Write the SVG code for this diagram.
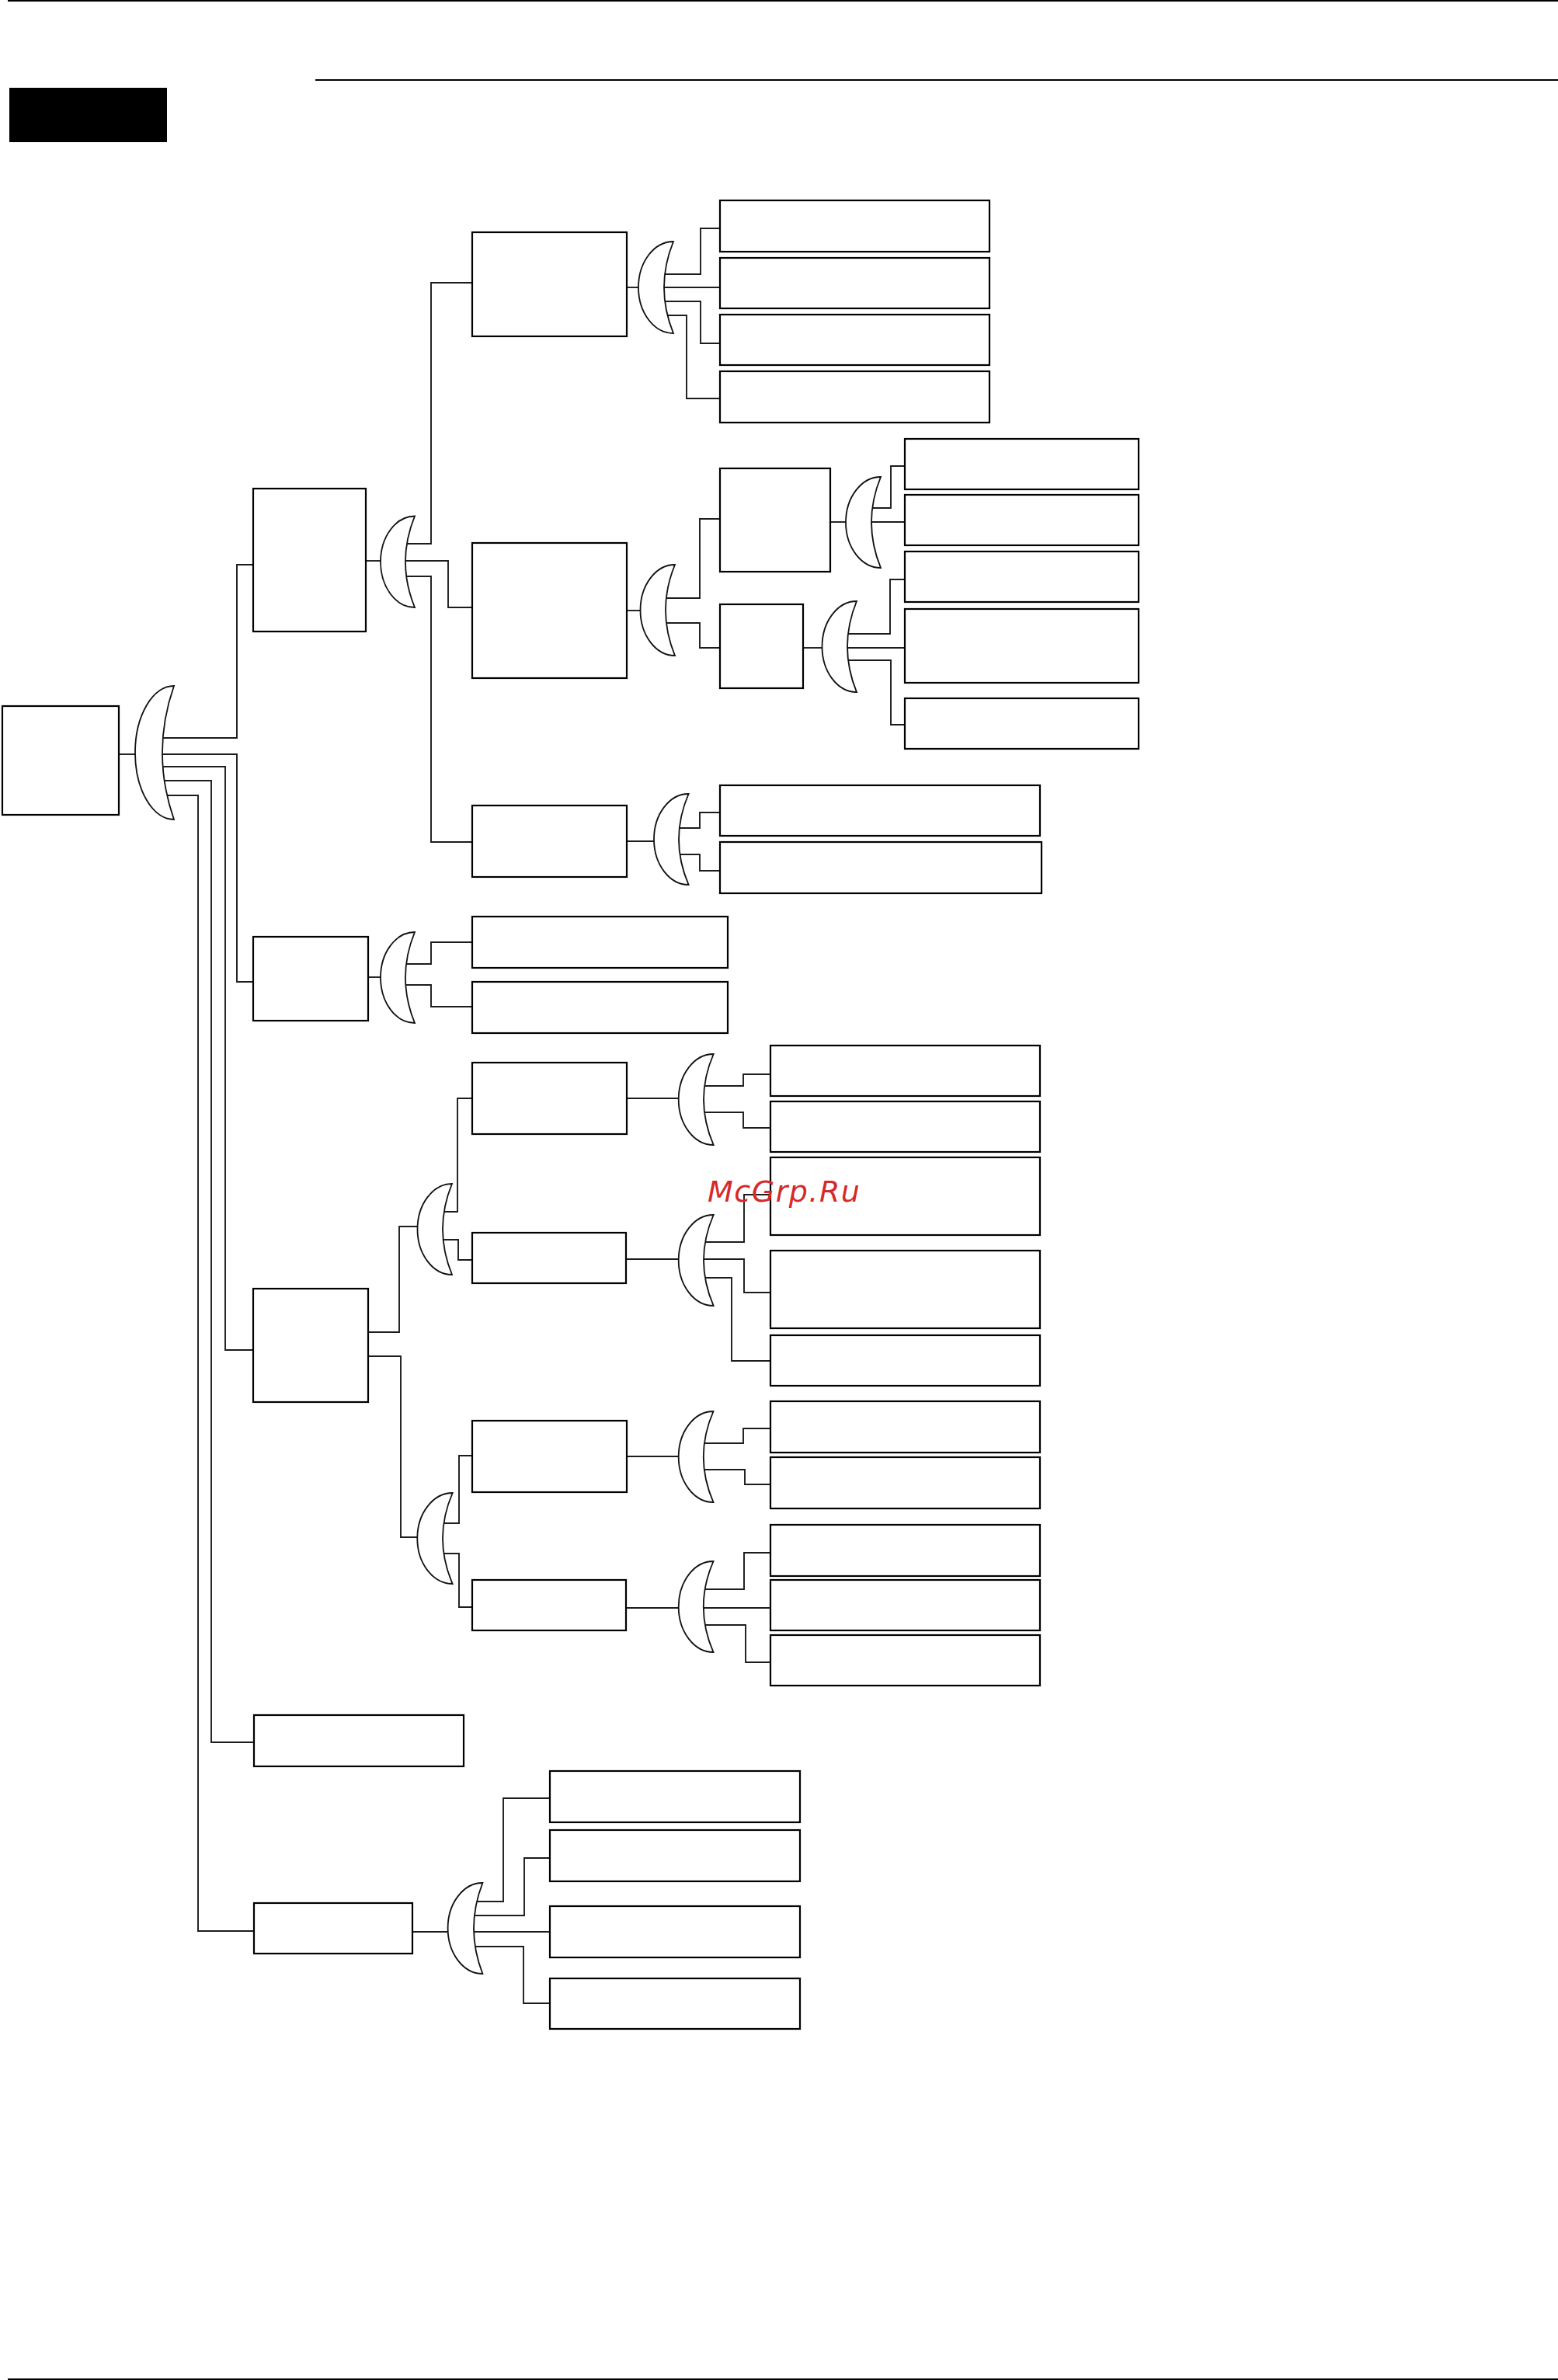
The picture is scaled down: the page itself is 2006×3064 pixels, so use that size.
<svg xmlns="http://www.w3.org/2000/svg" width="2006" height="3064" viewBox="0 0 2006 3064">
<style>
.b{fill:#fff;stroke:#000;stroke-width:2.2}
.c{fill:none;stroke:#1c1c1c;stroke-width:1.9}
.g{fill:#fff;stroke:#111;stroke-width:1.8}
.r{fill:none;stroke:#000;stroke-width:2}
.wm{font-family:"DejaVu Sans",sans-serif;font-style:italic;font-size:38px;letter-spacing:1.5px;fill:#d42a2a}
</style>
<rect width="2006" height="3064" fill="#fff"/>
<g id="page">
<line class="r" x1="10" y1="1" x2="2006" y2="1"/>
<line class="r" x1="406" y1="103" x2="2006" y2="103"/>
<line class="r" x1="10" y1="3063" x2="2006" y2="3063"/>
<rect x="12" y="113" width="203" height="70" fill="#000"/>
</g>
<g id="connectors">
<polyline class="c" points="153,971 175,971"/>
<polyline class="c" points="208,950 305,950 305,727 326,727"/>
<polyline class="c" points="208,971 305,971 305,1264 326,1264"/>
<polyline class="c" points="208,987 290,987 290,1738 326,1738"/>
<polyline class="c" points="208,1005 272,1005 272,2243 327,2243"/>
<polyline class="c" points="208,1024 255,1024 255,2486 327,2486"/>
<polyline class="c" points="471,722 491,722"/>
<polyline class="c" points="520,700 555,700 555,364 608,364"/>
<polyline class="c" points="520,722 577,722 577,782 608,782"/>
<polyline class="c" points="520,742 555,742 555,1084 608,1084"/>
<polyline class="c" points="807,370 823,370"/>
<polyline class="c" points="853,353 902,353 902,294 927,294"/>
<polyline class="c" points="853,370 927,370"/>
<polyline class="c" points="853,388 902,388 902,442 927,442"/>
<polyline class="c" points="853,406 884,406 884,513 927,513"/>
<polyline class="c" points="807,786 825,786"/>
<polyline class="c" points="855,770 901,770 901,668 927,668"/>
<polyline class="c" points="855,802 901,802 901,834 927,834"/>
<polyline class="c" points="1069,672 1090,672"/>
<polyline class="c" points="1120,654 1147,654 1147,600 1165,600"/>
<polyline class="c" points="1120,672 1165,672"/>
<polyline class="c" points="1034,834 1059,834"/>
<polyline class="c" points="1089,816 1146,816 1146,746 1165,746"/>
<polyline class="c" points="1089,834 1165,834"/>
<polyline class="c" points="1089,850 1147,850 1147,933 1165,933"/>
<polyline class="c" points="807,1083 843,1083"/>
<polyline class="c" points="872,1066 901,1066 901,1046 927,1046"/>
<polyline class="c" points="872,1100 901,1100 901,1121 927,1121"/>
<polyline class="c" points="474,1258 491,1258"/>
<polyline class="c" points="520,1241 555,1241 555,1213 608,1213"/>
<polyline class="c" points="520,1268 555,1268 555,1296 608,1296"/>
<polyline class="c" points="474,1715 514,1715 514,1579 538,1579"/>
<polyline class="c" points="474,1746 516,1746 516,1979 538,1979"/>
<polyline class="c" points="568,1560 589,1560 589,1414 608,1414"/>
<polyline class="c" points="568,1596 590,1596 590,1622 608,1622"/>
<polyline class="c" points="807,1414 874,1414"/>
<polyline class="c" points="904,1398 957,1398 957,1383 992,1383"/>
<polyline class="c" points="904,1432 957,1432 957,1452 992,1452"/>
<polyline class="c" points="806,1621 874,1621"/>
<polyline class="c" points="904,1599 958,1599 958,1538 992,1538"/>
<polyline class="c" points="904,1621 958,1621 958,1664 992,1664"/>
<polyline class="c" points="904,1645 942,1645 942,1752 992,1752"/>
<polyline class="c" points="568,1961 591,1961 591,1874 608,1874"/>
<polyline class="c" points="568,2000 591,2000 591,2069 608,2069"/>
<polyline class="c" points="807,1875 874,1875"/>
<polyline class="c" points="904,1858 957,1858 957,1839 992,1839"/>
<polyline class="c" points="904,1892 959,1892 959,1911 992,1911"/>
<polyline class="c" points="806,2070 874,2070"/>
<polyline class="c" points="904,2046 958,2046 958,1999 992,1999"/>
<polyline class="c" points="904,2070 992,2070"/>
<polyline class="c" points="904,2092 960,2092 960,2140 992,2140"/>
<polyline class="c" points="531,2487 577,2487"/>
<polyline class="c" points="608,2448 648,2448 648,2315 708,2315"/>
<polyline class="c" points="608,2466 675,2466 675,2392 708,2392"/>
<polyline class="c" points="608,2487 708,2487"/>
<polyline class="c" points="608,2506 674,2506 674,2579 708,2579"/>
</g>
<g id="gates">
<path id="g-root" class="g" d="M224,883 A50,86 0 0 0 224,1055 Q194,969 224,883 Z"/>
<path id="g-l1" class="g" d="M534,664.5 A44,58.75 0 0 0 534,782 Q510,723.25 534,664.5 Z"/>
<path id="g-l2" class="g" d="M534,1200 A44,58.5 0 0 0 534,1317 Q510,1258.5 534,1200 Z"/>
<path id="g-a" class="g" d="M867,311 A45,59 0 0 0 867,429 Q843,370 867,311 Z"/>
<path id="g-b" class="g" d="M869,727 A44.5,58.5 0 0 0 869,844 Q845,785.5 869,727 Z"/>
<path id="g-c" class="g" d="M886.6,1022 A44.6,58.5 0 0 0 886.6,1139 Q861.4,1080.5 886.6,1022 Z"/>
<path id="g-b1" class="g" d="M1134,614 A45,58.5 0 0 0 1134,731 Q1110,672.5 1134,614 Z"/>
<path id="g-b2" class="g" d="M1103,774 A44.5,58.5 0 0 0 1103,891 Q1079,832.5 1103,774 Z"/>
<path id="g-l3" class="g" d="M582,1524 A44.5,58.5 0 0 0 582,1641 Q558,1582.5 582,1524 Z"/>
<path id="g-l3b" class="g" d="M582.7,1922 A45.4,58.5 0 0 0 582.7,2039 Q557.3,1980.5 582.7,1922 Z"/>
<path id="g-l3a1" class="g" d="M918.7,1357 A45,58.5 0 0 0 918.7,1474 Q893.3,1415.5 918.7,1357 Z"/>
<path id="g-l3a2" class="g" d="M918.7,1564 A45,58.5 0 0 0 918.7,1681 Q893.3,1622.5 918.7,1564 Z"/>
<path id="g-l3b1" class="g" d="M918.5,1817 A44.8,58.5 0 0 0 918.5,1934 Q893,1875.5 918.5,1817 Z"/>
<path id="g-l3b2" class="g" d="M918.5,2010 A44.8,58.5 0 0 0 918.5,2127 Q893,2068.5 918.5,2010 Z"/>
<path id="g-l5" class="g" d="M621.4,2424 A44.8,58.5 0 0 0 621.4,2541 Q598.6,2482.5 621.4,2424 Z"/>
</g>
<g id="nodes">
<rect id="n-root" class="b" x="3" y="909" width="150" height="140"/>
<rect id="n-l1" class="b" x="326" y="629" width="145" height="184"/>
<rect id="n-a" class="b" x="608" y="299" width="199" height="134"/>
<rect id="n-a1" class="b" x="927" y="258" width="347" height="66"/>
<rect id="n-a2" class="b" x="927" y="332" width="347" height="65"/>
<rect id="n-a3" class="b" x="927" y="405" width="347" height="65"/>
<rect id="n-a4" class="b" x="927" y="478" width="347" height="66"/>
<rect id="n-b" class="b" x="608" y="699" width="199" height="174"/>
<rect id="n-b1" class="b" x="927" y="603" width="142" height="133"/>
<rect id="n-b2" class="b" x="927" y="778" width="107" height="108"/>
<rect id="n-r1" class="b" x="1165" y="565" width="301" height="65"/>
<rect id="n-r2" class="b" x="1165" y="637" width="301" height="65"/>
<rect id="n-r3" class="b" x="1165" y="710" width="301" height="65"/>
<rect id="n-r4" class="b" x="1165" y="784" width="301" height="95"/>
<rect id="n-r5" class="b" x="1165" y="899" width="301" height="65"/>
<rect id="n-c" class="b" x="608" y="1037" width="199" height="92"/>
<rect id="n-c1" class="b" x="927" y="1011" width="412" height="65"/>
<rect id="n-c2" class="b" x="927" y="1084" width="414" height="66"/>
<rect id="n-l2" class="b" x="326" y="1206" width="148" height="108"/>
<rect id="n-l2a" class="b" x="608" y="1180" width="329" height="66"/>
<rect id="n-l2b" class="b" x="608" y="1264" width="329" height="66"/>
<rect id="n-l3" class="b" x="326" y="1659" width="148" height="146"/>
<rect id="n-l3a" class="b" x="608" y="1368" width="199" height="92"/>
<rect id="n-l3b" class="b" x="608" y="1587" width="198" height="65"/>
<rect id="n-l3c" class="b" x="608" y="1829" width="199" height="92"/>
<rect id="n-l3d" class="b" x="608" y="2034" width="198" height="65"/>
<rect id="n-s1" class="b" x="992" y="1346" width="347" height="65"/>
<rect id="n-s2" class="b" x="992" y="1418" width="347" height="65"/>
<rect id="n-s3" class="b" x="992" y="1490" width="347" height="100"/>
<rect id="n-s4" class="b" x="992" y="1610" width="347" height="100"/>
<rect id="n-s5" class="b" x="992" y="1719" width="347" height="65"/>
<rect id="n-s6" class="b" x="992" y="1804" width="347" height="66"/>
<rect id="n-s7" class="b" x="992" y="1876" width="347" height="66"/>
<rect id="n-s8" class="b" x="992" y="1963" width="347" height="66"/>
<rect id="n-s9" class="b" x="992" y="2034" width="347" height="65"/>
<rect id="n-s10" class="b" x="992" y="2105" width="347" height="65"/>
<rect id="n-l4" class="b" x="327" y="2208" width="270" height="66"/>
<rect id="n-l5" class="b" x="327" y="2450" width="204" height="65"/>
<rect id="n-t1" class="b" x="708" y="2280" width="322" height="66"/>
<rect id="n-t2" class="b" x="708" y="2356" width="322" height="66"/>
<rect id="n-t3" class="b" x="708" y="2454" width="322" height="66"/>
<rect id="n-t4" class="b" x="708" y="2547" width="322" height="65"/>
</g>
<text class="wm" x="911" y="1547">McGrp.Ru</text>
</svg>
